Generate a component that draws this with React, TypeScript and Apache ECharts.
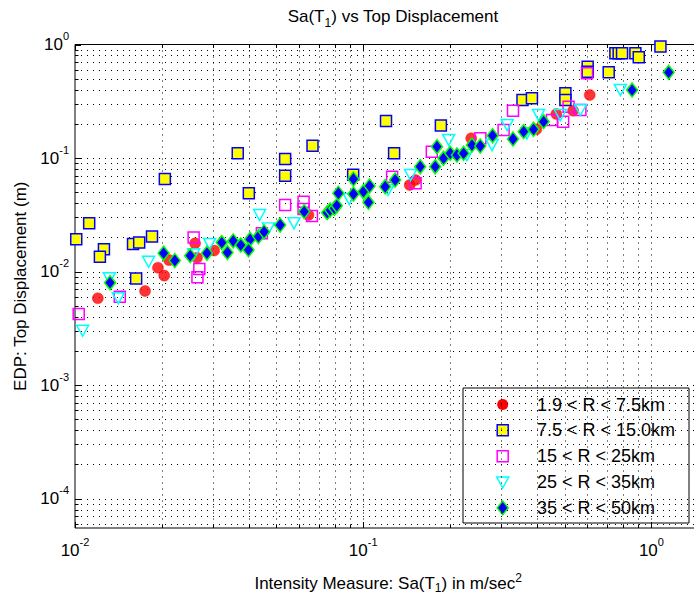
import React, { useEffect, useRef } from 'react';
import * as echarts from 'echarts';

const seriesNames = ['1.9 < R < 7.5km', '7.5 < R < 15.0km', '15 < R < 25km', '25 < R < 35km', '35 < R < 50km'];

const red: number[][] = [
  [0.012, 0.00581], [0.0175, 0.00673], [0.0194, 0.0108], [0.0204, 0.0092], [0.0212, 0.0126],
  [0.0261, 0.0177], [0.0265, 0.0132], [0.0304, 0.0153], [0.0646, 0.0315], [0.145, 0.0578],
  [0.152, 0.064], [0.237, 0.149], [0.399, 0.179], [0.468, 0.244], [0.535, 0.261], [0.611, 0.359],
];

const yellow: number[][] = [
  [0.0101, 0.0192], [0.0112, 0.0266], [0.0126, 0.0157], [0.0122, 0.0135], [0.0159, 0.0175],
  [0.0167, 0.018], [0.0185, 0.0203], [0.0163, 0.0087], [0.0205, 0.0653], [0.0367, 0.11],
  [0.0401, 0.0489], [0.0536, 0.098], [0.0536, 0.0698], [0.0667, 0.128], [0.0923, 0.0713],
  [0.12, 0.212], [0.128, 0.11], [0.186, 0.193], [0.357, 0.324], [0.385, 0.336],
  [0.503, 0.372], [0.503, 0.324], [0.601, 0.637], [0.601, 0.576], [0.711, 0.569],
  [0.75, 0.837], [0.77, 0.837], [0.791, 0.837], [0.88, 0.837], [0.904, 0.771], [1.075, 0.96],
];

const magenta: number[][] = [
  [0.0103, 0.00422], [0.0143, 0.006], [0.0258, 0.0199], [0.027, 0.0105], [0.0266, 0.0089],
  [0.0445, 0.0217], [0.0536, 0.0385], [0.0621, 0.0412], [0.0621, 0.0355], [0.0664, 0.0308],
  [0.126, 0.0684], [0.152, 0.0598], [0.173, 0.1136], [0.255, 0.149], [0.307, 0.1765],
  [0.331, 0.261], [0.452, 0.216], [0.494, 0.209], [0.516, 0.283], [0.567, 0.265], [0.598, 0.558],
];

const cyan: number[][] = [
  [0.01063, 0.00301], [0.01316, 0.00871], [0.01413, 0.00581], [0.018, 0.0122], [0.0258, 0.0142],
  [0.0293, 0.0175], [0.0437, 0.0315], [0.0469, 0.024], [0.0575, 0.0266], [0.0894, 0.0435],
  [0.122, 0.0523], [0.146, 0.0708], [0.198, 0.144], [0.229, 0.106], [0.28, 0.13],
  [0.316, 0.195], [0.37, 0.165], [0.406, 0.239], [0.483, 0.239], [0.567, 0.265], [0.78, 0.397],
];

const diamond: number[][] = [
  [0.01323, 0.00797], [0.0203, 0.0145], [0.0222, 0.0125], [0.0251, 0.0138], [0.0287, 0.0145],
  [0.0323, 0.018], [0.0338, 0.0147], [0.0354, 0.0186], [0.0376, 0.0171], [0.0405, 0.0192],
  [0.04, 0.0155], [0.0433, 0.0203], [0.0453, 0.0224], [0.0515, 0.0257], [0.0624, 0.0337],
  [0.075, 0.033], [0.0768, 0.0348], [0.0794, 0.036], [0.081, 0.038], [0.082, 0.0489],
  [0.0925, 0.0653], [0.0925, 0.0482], [0.1002, 0.0505], [0.1052, 0.0567], [0.1043, 0.0407],
  [0.1192, 0.0558], [0.1291, 0.064], [0.1577, 0.0838], [0.1803, 0.1258], [0.1778, 0.0838],
  [0.19, 0.0994], [0.2005, 0.11], [0.2115, 0.1063], [0.223, 0.11], [0.2384, 0.13],
  [0.2548, 0.1276], [0.2812, 0.1572], [0.331, 0.147], [0.3603, 0.1706], [0.39, 0.179],
  [0.4227, 0.209], [0.857, 0.397], [1.148, 0.569],
];

const xMin = 0.01;
const xMax = 1.49;
const yMin = 5.5e-5;
const yMax = 1;
const decades = [1e-5, 1e-4, 1e-3, 1e-2, 1e-1, 1];
const multipliers = [1, 2, 3, 4, 5, 6, 7, 8, 9];

const FONT = '"Liberation Sans", Arial, Helvetica, sans-serif';

function gridData(): number[][] {
  const out: number[][] = [];
  decades.forEach((d) => {
    multipliers.forEach((m) => {
      const v = d * m;
      const major = m === 1 ? 1 : 0;
      if (v >= xMin * 0.999 && v <= xMax) out.push([v, 0.01, 0, major]);
      if (v >= yMin && v <= yMax * 1.001) out.push([0.1, v, 1, major]);
    });
  });
  return out;
}

function supLabel(v: number): string {
  const l = Math.log10(v);
  const e = Math.round(l);
  if (Math.abs(l - e) > 1e-6) return '';
  return `{b|10}{e|${e}}`;
}

const tickRich = {
  b: { fontSize: 17, lineHeight: 28, fontFamily: FONT, color: '#000' },
  e: { fontSize: 11, lineHeight: 11, verticalAlign: 'top', fontFamily: FONT, color: '#000' },
};

export default function App() {
  const ref = useRef<HTMLDivElement>(null);
  useEffect(() => {
    if (!ref.current) return;
    const chart = echarts.init(ref.current, undefined, { renderer: 'svg' });

    const legendLeft = 463;
    const legendTop = 388;
    const rowY = (i: number) => 404.5 + 25.85 * i;
    const mx = 502.7;
    const legendChildren: any[] = [
      { type: 'rect', shape: { x: legendLeft, y: legendTop, width: 226, height: 135 }, style: { fill: '#fff', stroke: '#000', lineWidth: 1 } },
      { type: 'circle', shape: { cx: mx, cy: rowY(0), r: 5.5 }, style: { fill: '#ff0000' } },
      { type: 'rect', shape: { x: mx - 5.5, y: rowY(1) - 5.5, width: 11, height: 11 }, style: { fill: '#ffff00', stroke: '#0000ff', lineWidth: 1.5 } },
      { type: 'rect', shape: { x: mx - 5.5, y: rowY(2) - 5.5, width: 11, height: 11 }, style: { fill: 'none', stroke: '#ff00ff', lineWidth: 1.5 } },
      { type: 'polygon', shape: { points: [[mx - 6, rowY(3) - 5], [mx + 6, rowY(3) - 5], [mx, rowY(3) + 6]] }, style: { fill: 'none', stroke: '#00ffff', lineWidth: 1.5 } },
      { type: 'polygon', shape: { points: [[mx, rowY(4) - 7], [mx + 5.5, rowY(4)], [mx, rowY(4) + 7], [mx - 5.5, rowY(4)]] }, style: { fill: '#0000ff', stroke: '#00ff00', lineWidth: 1.5 } },
    ];
    seriesNames.forEach((n, i) => {
      legendChildren.push({
        type: 'text',
        style: { text: n, x: 537, y: rowY(i), fill: '#000', font: `18px ${FONT}`, verticalAlign: 'middle', align: 'left' },
      });
    });

    const scatterBase = { type: 'scatter', xAxisIndex: 0, yAxisIndex: 0, z: 3 };
    const gridLeft = 75;
    const gridWidth = 288.2 * Math.log10(xMax / xMin);

    chart.setOption({
      animation: false,
      backgroundColor: '#fff',
      title: {
        text: '{a|Sa(T}{s|1}{a|) vs Top Displacement}',
        left: 388,
        top: 3,
        textAlign: 'center',
        textStyle: {
          fontWeight: 'normal',
          rich: {
            a: { fontSize: 17, lineHeight: 20, verticalAlign: 'top', fontWeight: 'normal', fontFamily: FONT, color: '#000' },
            s: { fontSize: 12, padding: [9, 0, 0, 0], verticalAlign: 'top', fontWeight: 'normal', fontFamily: FONT, color: '#000' },
          },
        },
      },
      grid: {
        left: gridLeft, top: 44.5, width: gridWidth, height: 483.5,
        outerBoundsMode: 'none', containLabel: false,
        show: true, borderColor: '#000', borderWidth: 1, backgroundColor: 'rgba(0,0,0,0)',
      },
      xAxis: {
        type: 'log',
        logBase: 10,
        min: xMin,
        max: xMax,
        axisLine: { show: false },
        axisTick: { show: false },
        splitLine: { show: false },
        axisLabel: { formatter: supLabel, margin: 8, rich: tickRich, showMinLabel: true, showMaxLabel: false },
        name: '{a|Intensity Measure: Sa(T}{s|1}{a|) in m/sec}{p|2}',
        nameLocation: 'middle',
        nameGap: 44,
        nameTextStyle: {
          rich: {
            a: { fontSize: 17, lineHeight: 22, fontFamily: FONT, color: '#000' },
            s: { fontSize: 12, padding: [10, 0, 0, 0], verticalAlign: 'top', fontFamily: FONT, color: '#000' },
            p: { fontSize: 12, lineHeight: 12, verticalAlign: 'top', fontFamily: FONT, color: '#000' },
          },
        },
      },
      yAxis: {
        type: 'log',
        logBase: 10,
        min: yMin,
        max: yMax,
        axisLine: { show: false },
        axisTick: { show: false },
        splitLine: { show: false },
        axisLabel: { formatter: supLabel, margin: 6, rich: tickRich, showMinLabel: false, showMaxLabel: true },
        name: 'EDP: Top Displacement (m)',
        nameLocation: 'middle',
        nameGap: 42,
        nameTextStyle: { fontSize: 17, fontFamily: FONT, color: '#000' },
      },
      graphic: [{ type: 'group', children: legendChildren, z: 100 }],
      series: [
        {
          type: 'custom',
          silent: true,
          z: 1,
          data: gridData(),
          clip: false,
          renderItem: (params: any, api: any) => {
            const cs = params.coordSys;
            const dir = api.value(2);
            const major = api.value(3) === 1;
            const L = major ? 6 : 3.5;
            const p = api.coord([api.value(0), api.value(1)]);
            const dash = { stroke: '#000', lineWidth: 1, lineDash: [1, 5] };
            const solid = { stroke: '#000', lineWidth: 1 };
            const ch: any[] = [];
            if (dir === 0) {
              const x = Math.round(p[0]) + 0.5;
              const y0 = cs.y;
              const y1 = cs.y + cs.height;
              if (x > cs.x + 1.5 && x < cs.x + cs.width - 1.5) {
                ch.push({ type: 'line', shape: { x1: x, y1: y0, x2: x, y2: y1 }, style: dash });
              }
              ch.push({ type: 'line', shape: { x1: x, y1: y1, x2: x, y2: y1 - L }, style: solid });
              ch.push({ type: 'line', shape: { x1: x, y1: y0, x2: x, y2: y0 + L }, style: solid });
            } else {
              const y = Math.round(p[1]) + 0.5;
              const x0 = cs.x;
              const x1 = cs.x + cs.width;
              if (y > cs.y + 1.5 && y < cs.y + cs.height - 1.5) {
                ch.push({ type: 'line', shape: { x1: x0, y1: y, x2: x1, y2: y }, style: dash });
              }
              ch.push({ type: 'line', shape: { x1: x0, y1: y, x2: x0 + L, y2: y }, style: solid });
              ch.push({ type: 'line', shape: { x1: x1, y1: y, x2: x1 - L, y2: y }, style: solid });
            }
            return { type: 'group', children: ch };
          },
        },
        {
          ...scatterBase,
          name: seriesNames[0],
          data: red,
          symbol: 'circle',
          symbolSize: 11,
          itemStyle: { color: '#ff0000', borderColor: '#ff0000', borderWidth: 0.5 },
        },
        {
          ...scatterBase,
          name: seriesNames[1],
          data: yellow,
          symbol: 'rect',
          symbolSize: 11,
          itemStyle: { color: '#ffff00', borderColor: '#0000ff', borderWidth: 1.5, opacity: 1 },
        },
        {
          ...scatterBase,
          name: seriesNames[2],
          data: magenta,
          symbol: 'rect',
          symbolSize: 11,
          itemStyle: { color: 'rgba(0,0,0,0)', borderColor: '#ff00ff', borderWidth: 1.5, opacity: 1 },
        },
        {
          ...scatterBase,
          name: seriesNames[3],
          data: cyan,
          symbol: 'triangle',
          symbolRotate: 180,
          symbolSize: [12, 11],
          itemStyle: { color: 'rgba(0,0,0,0)', borderColor: '#00ffff', borderWidth: 1.5, opacity: 1 },
        },
        {
          ...scatterBase,
          name: seriesNames[4],
          data: diamond,
          symbol: 'diamond',
          symbolSize: [11, 14],
          itemStyle: { color: '#0000ff', borderColor: '#00ff00', borderWidth: 1.5, opacity: 1 },
        },
      ],
    });
    return () => chart.dispose();
  }, []);
  return <div ref={ref} style={{ position: 'absolute', left: 0, top: 0, width: 694, height: 599, background: '#fff' }} />;
}
